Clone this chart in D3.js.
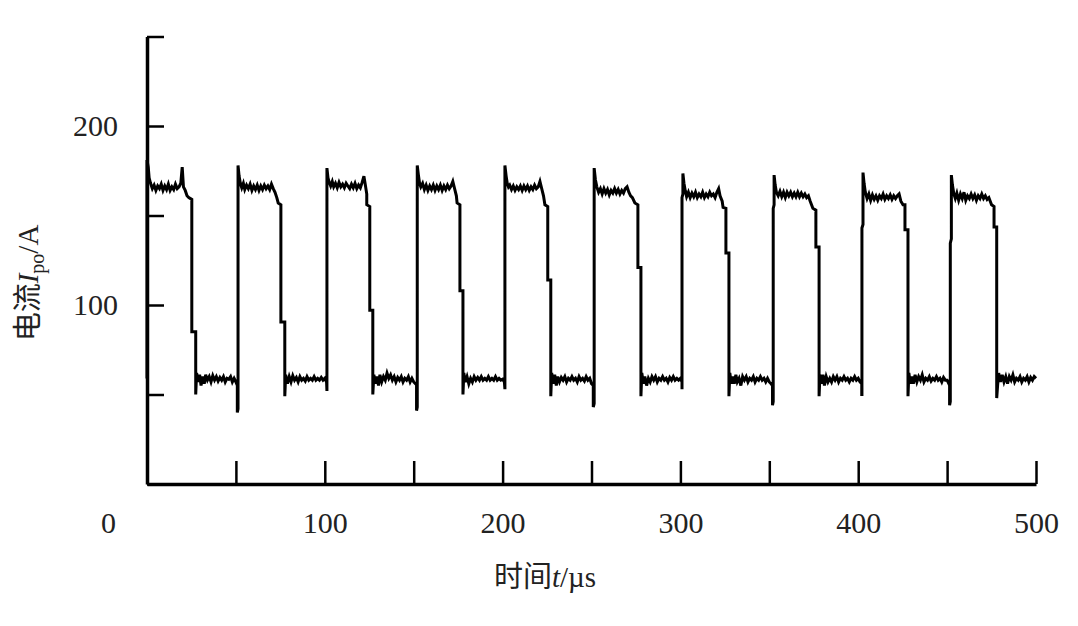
<!DOCTYPE html>
<html>
<head>
<meta charset="utf-8">
<script src="https://cdn.jsdelivr.net/npm/d3@7"></script>
<style>
  html, body { margin: 0; padding: 0; background: #fff; }
  svg { display: block; }
</style>
</head>
<body>
<svg id="chart" width="1078" height="626"></svg>
<script>
// ---- data (time in µs, current in A) ----
const xTicks = [0, 50, 100, 150, 200, 250, 300, 350, 400, 450, 500];
const xTickLabels = [0, 100, 200, 300, 400, 500];
const yTicks = [0, 50, 100, 150, 200, 250];
const yTickLabels = [100, 200];

const signal = [
  // pulse 1
  [0,59],[0,181],[0.7,177],[1.2,171],[2,168],[3,165],[4,167],[5,164],[6,166.5],[7,165],[8,167.5],[9,164],[10,166.5],[11,164.5],[12,167.5],[13,164],[14,166],[15,164.5],[16,167.5],[17,165],[18,166],[19,168],[19.8,177],[20.5,166],[21.5,164],[22.5,161],[23.5,160],[25.2,159],[25.2,85],[27.4,85],[27.4,50],
  [27.9,62],[28.8,57],[29.6,61],[30.4,55],[31.3,60],[32.2,56],[33,61],[34,58],[35,60],[36,57],[37,60.5],[38,58],[39,60],[40,57.5],[41,59.5],[42,58],[43,60],[44,57],[45,59],[46,58.5],[47,60],[48,57],[49,59],[50,57],[50.8,55],[50.8,40],
  // pulse 2
  [51.2,42],[51.2,178],[51.8,172],[52.5,168],[53.3,165.5],[54.2,168],[55,164.5],[56,167],[57,165],[58,167.5],[59,164],[60,166.5],[61,164.5],[62,167],[63,164],[64,166.5],[65,164.5],[66,167],[67,165],[68,166.5],[69,164.5],[70,167.5],[71,165],[72,163],[73,160],[73.8,157],[75.3,156],[75.3,90.5],[77.5,90.5],[77.5,49],
  [78,61],[79,56],[80,60],[81,57],[82,60.5],[83,58],[84,59.5],[85,57],[86,60],[87,58],[88,59],[89,57.5],[90,60],[91,58],[92,59],[93,58],[94,60],[95,58],[96,59],[97,58],[98,59.5],[99,58],[100,59],[101,57],[101.2,52],
  // pulse 3
  [101.2,176.5],[101.8,171],[102.5,168.5],[103.3,166.5],[104.2,169],[105,166],[106,168],[107,165.5],[108,168.5],[109,166],[110,167.5],[111,165.5],[112,168],[113,166.5],[114,165],[115,167.5],[116,165.5],[117,168],[118,165],[119,167],[120,165.5],[121,168.5],[122,172],[122.8,167],[123.6,162],[123.6,156],[125.3,155],[125.3,97],[127,97],[127,50],
  [127.6,61],[128.5,56],[129.3,60],[130.2,55],[131,61],[132,57],[133,60],[134,58],[135,62],[136,59],[137,61],[138,58],[139,60],[140,57],[141,59.5],[142,58],[143,60],[144,57],[145,59],[146,58],[147,60],[148,57],[149,59],[150,57],[151,56],[151.6,56],[151.6,41],
  // pulse 4
  [152,43],[152,178],[152.6,173],[153.3,168],[154,166],[155,168],[156,164.5],[157,167],[158,164],[159,166.5],[160,164.5],[161,167],[162,164],[163,166.5],[164,164.5],[165,167],[166,164],[167,166.5],[168,164.5],[169,167],[170,165],[171,166.5],[172,169],[173,165],[174,161],[174.4,157],[176,156],[176,108],[177.7,108],[177.7,50],
  [178.2,62],[179,57],[180,60],[181,56],[182,59],[183,57],[184,60],[185,58],[186,59.5],[187,58],[188,60],[189,58],[190,59],[191,58],[192,60],[193,58],[194,59],[195,58],[196,60],[197,58],[198,59],[199,58],[200,58.5],[201,57],[201.3,53],
  // pulse 5
  [201.3,178],[202,172],[202.6,168],[203.3,166],[204,167],[205,164.5],[206,166.5],[207,164],[208,166],[209,164.5],[210,166.5],[211,164],[212,166.5],[213,164.5],[214,166.5],[215,164],[216,166],[217,164.5],[218,167],[219,165],[220,166],[221,169],[222,165],[223,161],[223.8,156],[225.4,155],[225.4,114],[227.1,114],[227.1,49],
  [227.6,62],[228.5,56],[229.3,61],[230.2,55],[231,60],[232,57],[233,59.5],[234,58],[235,60],[236,57],[237,59],[238,58],[239,60],[240,58],[241,59],[242,57],[243,60],[244,58],[245,59],[246,57.5],[247,60],[248,58],[249,59],[250,56],[251,55],[251,43],
  // pulse 6
  [251.5,45],[251.5,176.5],[252.2,170],[253,166],[254,163],[255,165],[256,162],[257,165],[258,162.5],[259,164.5],[260,161.5],[261,164],[262,162.5],[263,165],[264,162.5],[265,164.5],[266,162],[267,164],[268,162.5],[269,165],[270,166],[271,163],[272,161],[273,160],[274.4,157],[276.1,156],[276.1,121],[277.8,121],[277.8,49],
  [278.3,62],[279.2,56],[280,60],[281,55],[282,59],[283,57],[284,60],[285,58],[286,60],[287,57],[288,59],[289,58],[290,60],[291,58],[292,59],[293,57],[294,59.5],[295,58],[296,60],[297,58],[298,59],[299,58],[300,59],[300.9,57],[300.9,53],
  // pulse 7
  [300.9,160],[301.4,162],[301.4,173.5],[302,168],[302.7,164],[303.5,160.5],[304.5,163],[305.5,160],[306.5,162.5],[307.5,160.5],[308.5,163],[309.5,160],[310.5,162],[311.5,160.5],[312.5,163],[313.5,160],[314.5,162],[315.5,160.5],[316.5,163],[317.5,161],[318.5,162],[319.5,160],[320.5,163],[321.5,165],[322.3,161],[323.5,158],[324,154.5],[325.6,154],[325.6,129],[327.3,129],[327.3,49],
  [327.8,62],[328.6,56],[329.5,60],[330.3,56],[331.2,61],[332,57],[333,59],[334,55],[335,60],[336,58],[337,60],[338,57],[339,59],[340,58],[341,60],[342,57],[343,59],[344,58],[345,60],[346,58],[347,59],[348,57],[349,59],[350,57],[351,56],[351.8,55],[351.8,44],
  // pulse 8
  [352.2,46],[352.2,154],[352.7,156],[352.7,172.6],[353.3,167],[354,163],[355,161],[356,163.5],[357,160.5],[358,163],[359,160],[360,163],[361,161],[362,163],[363,160.5],[364,162.5],[365,160.5],[366,163],[367,160.5],[368,162.5],[369,160.5],[370,162],[371,160],[372,161],[373,158],[374.5,154],[376.2,153],[376.2,132.4],[378,132.4],[378,49],
  [378.5,61],[379.3,56],[380.2,61],[381,55],[382,60],[383,57],[384,59],[385,57],[386,60],[387,58],[388,60],[389,57],[390,59],[391,58],[392,60],[393,58],[394,59],[395,57],[396,59],[397,58],[398,60],[399,58],[400,59],[401,57],[402,56],[402,50],
  // pulse 9
  [402.1,50],[402.1,143],[402.7,145],[402.7,174],[403.3,168],[404,163],[405,159.5],[406,162],[407,158.5],[408,161.5],[409,159],[410,161],[411,158.5],[412,161],[413,159.5],[414,162],[415,159],[416,161],[417,159.5],[418,161.5],[419,159],[420,161],[421,159.5],[422,161],[423,162],[424,158],[425.2,156],[426.3,156],[426.3,142],[428,142],[428,49],
  [428.5,62],[429.3,56],[430.2,60],[431,56],[432,61],[433,57],[434,60],[435,58],[436,61],[437,57],[438,59],[439,58],[440,60],[441,57.5],[442,59],[443,58],[444,60],[445,58],[446,59],[447,57],[448,59.5],[449,58],[450,58],[451,56],[451.4,55],[451.4,44],
  // pulse 10
  [451.8,46],[451.8,134.6],[452.4,137],[452.4,172.6],[453,167],[453.8,162],[454.6,159.5],[455.5,162.5],[456.5,158.5],[457.5,162],[458.5,159.5],[459.5,163],[460.5,158.5],[461.5,161],[462.5,159.5],[463.5,162],[464.5,159.5],[465.5,161.5],[466.5,158.5],[467.5,161],[468.5,159.5],[469.5,162],[470.5,159.5],[471.5,161],[472.5,159],[473.5,160],[475,156],[476.4,155],[476.4,143.6],[477.9,143.6],[477.9,48],
  [478.4,55],[479,62],[480,57],[481,61],[482,57],[483,60],[484,56],[485,60],[486,58],[487,61],[488,57],[489,59],[490,58],[491,60],[492,57],[493,59],[494,58],[495,60],[496,57],[497,59.5],[498,58],[499,60],[500,59]
];

// ---- drawing ----
const svg = d3.select("#chart");
const x = d3.scaleLinear().domain([0, 500]).range([147, 1036]);
const y = d3.scaleLinear().domain([0, 250]).range([484, 36.5]);

const serif = "'Liberation Serif', 'Times New Roman', serif";
const cjk = "'Noto Sans CJK SC', sans-serif";

// signal line
const line = d3.line().x(d => x(d[0])).y(d => y(d[1]));
svg.append("path")
  .datum(signal)
  .attr("d", line)
  .attr("fill", "none")
  .attr("stroke", "#000")
  .attr("stroke-width", 3)
  .attr("stroke-linejoin", "miter");

// x axis
const xAxis = d3.axisBottom(x)
  .tickValues(xTicks)
  .tickSizeInner(-23)
  .tickSizeOuter(0)
  .tickPadding(28)
  .tickFormat(d => xTickLabels.includes(d) ? d : "");
const gx = svg.append("g").attr("transform", `translate(0,${y(0)})`).call(xAxis);
gx.select(".domain").attr("stroke", "#000").attr("stroke-width", 3.5);
gx.selectAll(".tick line").attr("stroke", "#000").attr("stroke-width", 2.5);
gx.selectAll(".tick text")
  .attr("font-family", serif).attr("font-size", 30).attr("fill", "#222")
  .attr("dx", d => d === 0 ? -39 : 0);

// y axis
const yAxis = d3.axisLeft(y)
  .tickValues(yTicks)
  .tickSizeInner(-17)
  .tickSizeOuter(0)
  .tickPadding(29)
  .tickFormat(d => yTickLabels.includes(d) ? d : "");
const gy = svg.append("g").attr("transform", `translate(${x(0)},0)`).call(yAxis);
gy.select(".domain").attr("stroke", "#000").attr("stroke-width", 3.5);
gy.selectAll(".tick line").attr("stroke", "#000").attr("stroke-width", 2.5);
gy.selectAll(".tick text")
  .attr("font-family", serif).attr("font-size", 30).attr("fill", "#222");

// y axis title
const yt = svg.append("text")
  .attr("transform", "translate(38,283) rotate(-90)")
  .attr("text-anchor", "middle")
  .attr("font-size", 29)
  .attr("fill", "#222");
yt.append("tspan").attr("font-family", cjk).text("电流");
yt.append("tspan").attr("font-family", serif).attr("font-style", "italic").text("I");
yt.append("tspan").attr("font-family", serif).attr("font-size", 20).attr("dy", 6).text("po");
yt.append("tspan").attr("font-family", serif).attr("dy", -6).text("/A");

// x axis title
const xt = svg.append("text")
  .attr("x", 545).attr("y", 587)
  .attr("text-anchor", "middle")
  .attr("font-size", 29)
  .attr("fill", "#222");
xt.append("tspan").attr("font-family", cjk).text("时间");
xt.append("tspan").attr("font-family", serif).attr("font-style", "italic").text("t");
xt.append("tspan").attr("font-family", serif).text("/µs");
</script>
</body>
</html>
